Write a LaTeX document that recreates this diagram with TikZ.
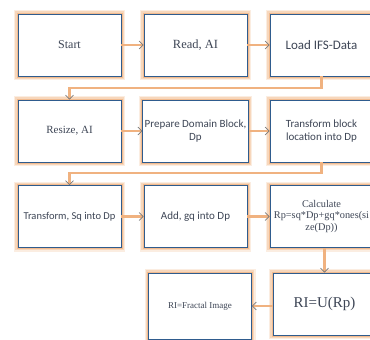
\documentclass[tikz,border=0pt]{standalone}
\usepackage{fontspec}
\setmainfont{Liberation Serif}
\newfontfamily\calib{Carlito}
\usepackage{tikz}
\usetikzlibrary{arrows.meta,positioning}

\definecolor{frameblue}{HTML}{2F5C8E}
\definecolor{glowor}{HTML}{EDA56A}
\definecolor{txtgray}{HTML}{3E4656}
\definecolor{tipgray}{HTML}{7A7A7A}

\tikzset{
  stepbox/.style={draw=frameblue, line width=0.7pt, fill=white, text=txtgray,
    minimum width=103pt, minimum height=62pt, align=center, inner sep=2pt,
    preaction={draw=glowor!20, line width=8pt},
    preaction={draw=glowor!45, line width=5.5pt},
    preaction={draw=glowor!75, line width=3pt}},
  flow/.style={draw=glowor!85, line width=2.4pt,
    -{Straight Barb[color=tipgray, line width=0.7pt, length=4pt, width=8pt]}}
}

\begin{document}
\begin{tikzpicture}[x=1pt, y=-1pt]
  \clip (0,0) rectangle (370,340);
  \fill[white] (0,0) rectangle (370,340);
  % === Row 1 ===
  \node[stepbox, font=\rmfamily\fontsize{12}{14}\selectfont] (start) at (69.5,45) {Start};
  \node[stepbox, font=\rmfamily\fontsize{12.5}{14}\selectfont] (read) at (195.5,45) {Read, AI};
  \node[stepbox, font=\calib\fontsize{13}{15}\selectfont] (load) at (321.5,45) {Load IFS-Data};
  % === Row 2 ===
  \node[stepbox, font=\rmfamily\fontsize{11}{13}\selectfont] (resize) at (69.5,131) {Resize, AI};
  \node[stepbox, font=\calib\fontsize{11}{12.5}\selectfont] (prep) at (195.5,131)
    {Prepare Domain Block,\\Dp};
  \node[stepbox, font=\calib\fontsize{11}{12.5}\selectfont] (locate) at (321.5,131)
    {Transform block\\location into Dp};
  % === Row 3 ===
  \node[stepbox, font=\calib\fontsize{10.5}{12}\selectfont] (scale) at (69.5,216.5)
    {Transform, Sq into Dp};
  \node[stepbox, font=\calib\fontsize{11}{12}\selectfont] (offset) at (195.5,216.5)
    {Add, gq into Dp};
  \node[stepbox, font=\rmfamily\fontsize{10.3}{11.5}\selectfont] (calc) at (321.5,216.5)
    {Calculate\\Rp=sq*Dp+gq*ones(si\\ze(Dp))};
  % === Row 4 ===
  \node[stepbox, minimum height=66pt, font=\rmfamily\fontsize{9}{11}\selectfont] (fractal) at (200,306)
    {RI=Fractal Image};
  \node[stepbox, font=\rmfamily\fontsize{15}{17}\selectfont] (union) at (324.5,304)
    {RI=U(Rp)};
  % Connectors
  \coordinate (bendA) at (69.5,88);
  \coordinate (bendB) at (69.5,173);
  \draw[flow] (start) -- (read);
  \draw[flow] (read) -- (load);
  \draw[flow] (load.south) |- (bendA) -- (resize.north);
  \draw[flow] (resize) -- (prep);
  \draw[flow] (prep) -- (locate);
  \draw[flow] (locate.south) |- (bendB) -- (scale.north);
  \draw[flow] (scale) -- (offset);
  \draw[flow] (offset) -- (calc);
  \draw[flow] (union.north |- calc.south) -- (union.north);
  \draw[flow] (union.west |- fractal.east) -- (fractal.east);
\end{tikzpicture}
\end{document}
